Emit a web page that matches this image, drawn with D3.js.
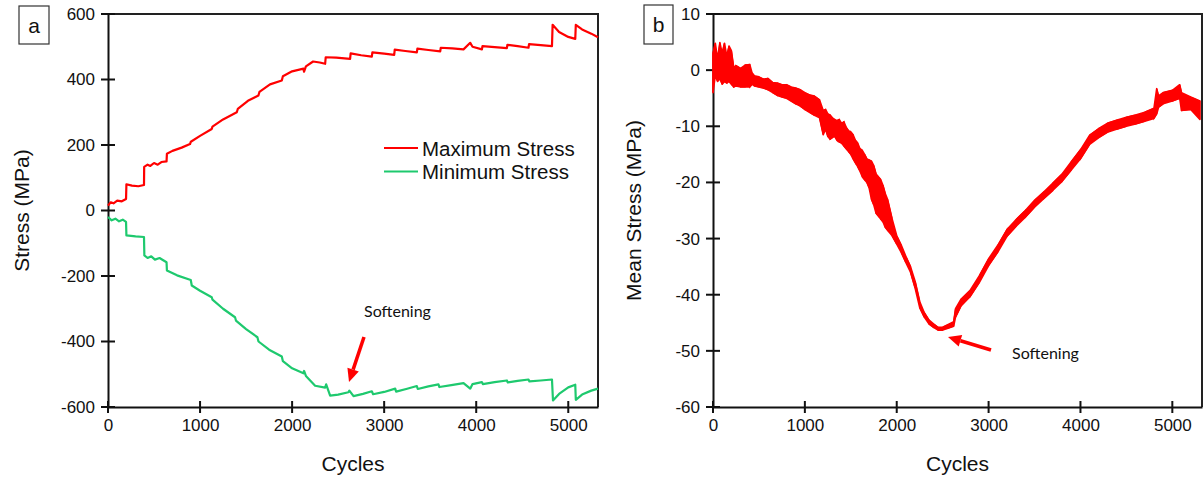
<!DOCTYPE html>
<html>
<head>
<meta charset="utf-8">
<script src="https://cdn.jsdelivr.net/npm/d3@7"></script>
<style>
  body { margin:0; background:#fff; }
  svg { display:block; }
  text { font-family: "Liberation Sans", Arial, sans-serif; fill:#111; }
  .axis line, .axis path { stroke:#111; }
  .note { font-family: Lato, "Open Sans", sans-serif; }
</style>
</head>
<body>
<svg id="chart" width="1203" height="479"></svg>
<script>
// ---- panel a : max / min stress vs cycles
const maxStress = [[0,15],[30,25],[60,22],[100,30],[150,28],[196,35],[200,80],[260,76],[330,74],[391,78],[393,133],[430,140],[460,136],[500,145],[540,140],[580,148],[636,150],[640,173],[700,182],[800,192],[891,203],[900,210],[1000,228],[1127,249],[1135,256],[1250,278],[1399,300],[1410,310],[1520,335],[1634,351],[1645,362],[1760,385],[1888,397],[1900,410],[2000,425],[2123,433],[2130,424],[2150,440],[2228,455],[2300,452],[2359,448],[2365,468],[2480,467],[2630,463],[2636,480],[2750,474],[2866,470],[2872,483],[3000,479],[3109,475],[3115,491],[3230,487],[3355,483],[3361,494],[3480,490],[3609,486],[3615,497],[3740,495],[3862,492],[3935,512],[3960,500],[4062,492],[4068,502],[4200,499],[4333,496],[4339,506],[4450,502],[4568,497],[4574,508],[4700,505],[4823,502],[4830,567],[4900,545],[5000,530],[5076,524],[5082,567],[5150,553],[5250,540],[5323,529]]

const minStress = [[0,-20],[40,-30],[80,-25],[120,-33],[160,-28],[196,-35],[200,-76],[300,-79],[391,-81],[395,-137],[430,-145],[470,-140],[510,-150],[560,-145],[600,-152],[636,-158],[640,-183],[750,-198],[899,-212],[910,-229],[1000,-245],[1127,-265],[1135,-272],[1250,-300],[1380,-326],[1390,-336],[1500,-362],[1623,-387],[1635,-400],[1750,-425],[1888,-446],[1900,-460],[2000,-482],[2123,-497],[2130,-490],[2150,-505],[2250,-535],[2359,-541],[2370,-531],[2413,-565],[2500,-562],[2612,-555],[2622,-550],[2667,-567],[2770,-560],[2866,-552],[2880,-561],[3000,-554],[3120,-544],[3130,-553],[3240,-545],[3355,-536],[3365,-545],[3480,-537],[3590,-531],[3600,-539],[3730,-533],[3862,-527],[3935,-544],[3960,-530],[4062,-524],[4072,-530],[4200,-524],[4333,-519],[4343,-525],[4450,-520],[4568,-516],[4578,-522],[4700,-519],[4823,-516],[4834,-580],[4900,-560],[5000,-540],[5076,-532],[5082,-578],[5150,-562],[5250,-550],[5323,-544]]

const legendLabels = ['Maximum Stress','Minimum Stress']
const ticksA_y = [-600,-400,-200,0,200,400,600]
const ticksX = [0,1000,2000,3000,4000,5000]

// ---- panel b : mean stress band (low / high edge of the noisy trace)
const cyclesB = [0,25,50,75,100,125,150,175,200,225,250,300,350,400,425,450,500,550,600,650,700,750,800,850,900,950,1000,1050,1100,1160,1200,1225,1250,1275,1300,1325,1350,1375,1400,1425,1450,1475,1500,1525,1550,1575,1600,1625,1650,1675,1700,1725,1750,1775,1800,1825,1850,1875,1900,1950,2000,2050,2100,2150,2200,2250,2300,2350,2400,2450,2500,2550,2620,2640,2700,2800,2900,3000,3100,3200,3300,3400,3500,3600,3700,3800,3900,4000,4100,4200,4300,4400,4500,4600,4700,4800,4830,4850,4900,5000,5080,5100,5200,5300]
const lowB = [-4,-1,-2,-1.5,-2.5,-2,-2.3,-2,-2.5,-3,-2.8,-3,-3,-3,-2.5,-2.8,-3,-3.2,-3.5,-4,-4.5,-4.8,-5,-5.5,-6,-6.4,-7,-7.5,-8,-8.5,-11.5,-10.5,-11.8,-12.3,-12,-11.8,-12.5,-12.8,-13,-13.5,-14,-14.5,-15,-15.8,-16.5,-17.2,-18,-19,-19.5,-20,-21,-23,-24,-25.5,-26,-26.5,-27,-28,-28.5,-29.5,-31,-32.5,-34.3,-36,-38.8,-42.3,-44,-45.2,-45.8,-46.3,-46.3,-46,-45.6,-44,-42,-40.3,-37.8,-34.8,-32.4,-29.6,-27.8,-26.2,-24.4,-22.9,-21.4,-19.8,-17.8,-15.8,-13.2,-12,-11,-10.5,-10,-9.6,-9.1,-8.6,-7.8,-6.6,-6,-5.5,-5,-7.2,-7,-8.8]
const highB = [3,4.8,2,4.9,3,4.8,2.5,4.3,3.5,0.5,0.8,0.3,0.9,1,-0.5,-1,-1.2,-1.6,-1.5,-2.2,-2.3,-2.6,-2.6,-3,-3.2,-3.5,-4,-4.4,-4.6,-5.3,-7.2,-7,-7.8,-8,-8.5,-8.8,-9,-8.8,-9.5,-9.2,-10.2,-10.8,-11,-11.5,-12.5,-13,-14,-14.3,-15,-15.8,-16,-16.2,-17,-18.5,-19,-19.5,-20.5,-22,-23,-26.5,-29.5,-31.2,-33.2,-35,-37.6,-41.2,-43.2,-44.5,-45.2,-45.8,-45.8,-45.4,-44.8,-42.5,-40.8,-39.2,-36.6,-33.6,-31.2,-28.4,-26.6,-25,-23.2,-21.7,-20.1,-18.5,-16.3,-14.2,-11.6,-10.4,-9.4,-8.9,-8.4,-8,-7.5,-6.8,-3.3,-4.6,-4,-3.6,-2.6,-4,-4.8,-5.5]
const ticksB_y = [-60,-50,-40,-30,-20,-10,0,10]

const RED = '#ff0000', GREEN = '#1ec96e'
const svg = d3.select('#chart')
const plainNum = d => String(d)   // hyphen minus like the original

function panel(opt){
	let { left, right, top, bottom, yDomain, yTicks, letter, letterBox, yTitle, yTitleX } = opt
	let x = d3.scaleLinear().domain([0,5323]).range([left,right])
	let y = d3.scaleLinear().domain(yDomain).range([bottom,top])
	let g = svg.append('g')

	// frame (top + right)
	g.append('path')
		.attr('d', `M${left},${top}H${right}V${bottom}`)
		.attr('fill','none').attr('stroke','#222').attr('stroke-width',2)

	// y axis : labels from axis, tick marks crossing the line
	let ya = g.append('g').attr('class','axis')
		.attr('transform',`translate(${left},0)`)
		.call(d3.axisLeft(y).tickValues(yTicks).tickSize(0).tickPadding(13).tickFormat(plainNum))
	ya.select('.domain').attr('stroke-width',2)
	ya.selectAll('text').style('font-size','17px')
	g.selectAll('.ytk').data(yTicks).enter().append('line')
		.attr('x1',left-7).attr('x2',left+7)
		.attr('y1',d=>y(d)).attr('y2',d=>y(d))
		.attr('stroke','#111').attr('stroke-width',2)

	let xa = g.append('g').attr('class','axis')
		.attr('transform',`translate(0,${bottom})`)
		.call(d3.axisBottom(x).tickValues(ticksX).tickSize(0).tickPadding(12).tickFormat(plainNum))
	xa.select('.domain').attr('stroke-width',2)
	xa.selectAll('text').style('font-size','17px')
	g.selectAll('.xtk').data(ticksX).enter().append('line')
		.attr('x1',d=>x(d)).attr('x2',d=>x(d))
		.attr('y1',bottom-6).attr('y2',bottom+6)
		.attr('stroke','#111').attr('stroke-width',2)

	g.append('text')
		.attr('x',(left+right)/2).attr('y',471)
		.attr('text-anchor','middle').style('font-size','21px')
		.text('Cycles')
	g.append('text')
		.attr('transform',`translate(${yTitleX},${(top+bottom)/2}) rotate(-90)`)
		.attr('text-anchor','middle').attr('dy','0.35em').style('font-size','21px')
		.text(yTitle)

	g.append('rect')
		.attr('x',letterBox[0]).attr('y',letterBox[1]).attr('width',letterBox[2]).attr('height',letterBox[3])
		.attr('fill','#fff').attr('stroke','#333').attr('stroke-width',1.2)
	g.append('text')
		.attr('x',letterBox[0]+letterBox[2]/2).attr('y',letterBox[1]+27)
		.attr('text-anchor','middle').style('font-size','21px')
		.text(letter)

	return { g, x, y }
}

function arrow(g, x1, y1, x2, y2){
	let ang = Math.atan2(y2-y1, x2-x1)
	let hl = 13, hw = 6
	let bx = x2 - hl*Math.cos(ang), by = y2 - hl*Math.sin(ang)
	g.append('line').attr('x1',x1).attr('y1',y1).attr('x2',bx).attr('y2',by)
		.attr('stroke',RED).attr('stroke-width',3.5)
	let px = -Math.sin(ang)*hw, py = Math.cos(ang)*hw
	g.append('path')
		.attr('d',`M${x2},${y2}L${bx+px},${by+py}L${bx-px},${by-py}Z`)
		.attr('fill',RED)
}

// ---------------- panel a
let A = panel({ left:108, right:598, top:14, bottom:407, yDomain:[-600,600], yTicks:ticksA_y,
	letter:'a', letterBox:[19,6,30,38], yTitle:'Stress (MPa)', yTitleX:22 })

let lineA = d3.line().x(d=>A.x(d[0])).y(d=>A.y(d[1]))
A.g.append('path').attr('d',lineA(minStress))
	.attr('fill','none').attr('stroke',GREEN).attr('stroke-width',2.2).attr('stroke-linejoin','round')
A.g.append('path').attr('d',lineA(maxStress))
	.attr('fill','none').attr('stroke',RED).attr('stroke-width',2.2).attr('stroke-linejoin','round')

let lg = A.g.append('g')
legendLabels.forEach((t,i)=>{
	let yy = 148 + i*23.5
	lg.append('line').attr('x1',384).attr('x2',418).attr('y1',yy).attr('y2',yy)
		.attr('stroke', i==0 ? RED : GREEN).attr('stroke-width',2.2)
	lg.append('text').attr('x',422).attr('y',yy+7.5).style('font-size','20.5px').text(t)
})

A.g.append('text').attr('class','note').attr('x',364).attr('y',317).style('font-size','16px').text('Softening')
arrow(A.g, 364, 337, 349, 382)

// ---------------- panel b
let B = panel({ left:713, right:1202, top:14, bottom:407, yDomain:[-60,10], yTicks:ticksB_y,
	letter:'b', letterBox:[644,5,29,39], yTitle:'Mean Stress (MPa)', yTitleX:634 })

let bandData = cyclesB.map((c,i)=>({ c, lo:lowB[i], hi:highB[i] }))
let area = d3.area().x(d=>B.x(d.c)).y0(d=>B.y(d.lo)).y1(d=>B.y(d.hi))
B.g.append('path').attr('d',area(bandData))
	.attr('fill',RED).attr('stroke',RED).attr('stroke-width',1.6).attr('stroke-linejoin','round')

// zigzag between the two edges gives the noisy texture
let zig = []
bandData.forEach((d,i)=>{ zig.push([d.c, i%2 ? d.hi : d.lo]); zig.push([d.c, i%2 ? d.lo : d.hi]) })
B.g.append('path').attr('d', d3.line().x(d=>B.x(d[0])).y(d=>B.y(d[1]))(zig))
	.attr('fill','none').attr('stroke',RED).attr('stroke-width',1.2)

B.g.append('text').attr('class','note').attr('x',1012).attr('y',359).style('font-size','16px').text('Softening')
arrow(B.g, 991, 350, 948, 337)
</script>
</body>
</html>
